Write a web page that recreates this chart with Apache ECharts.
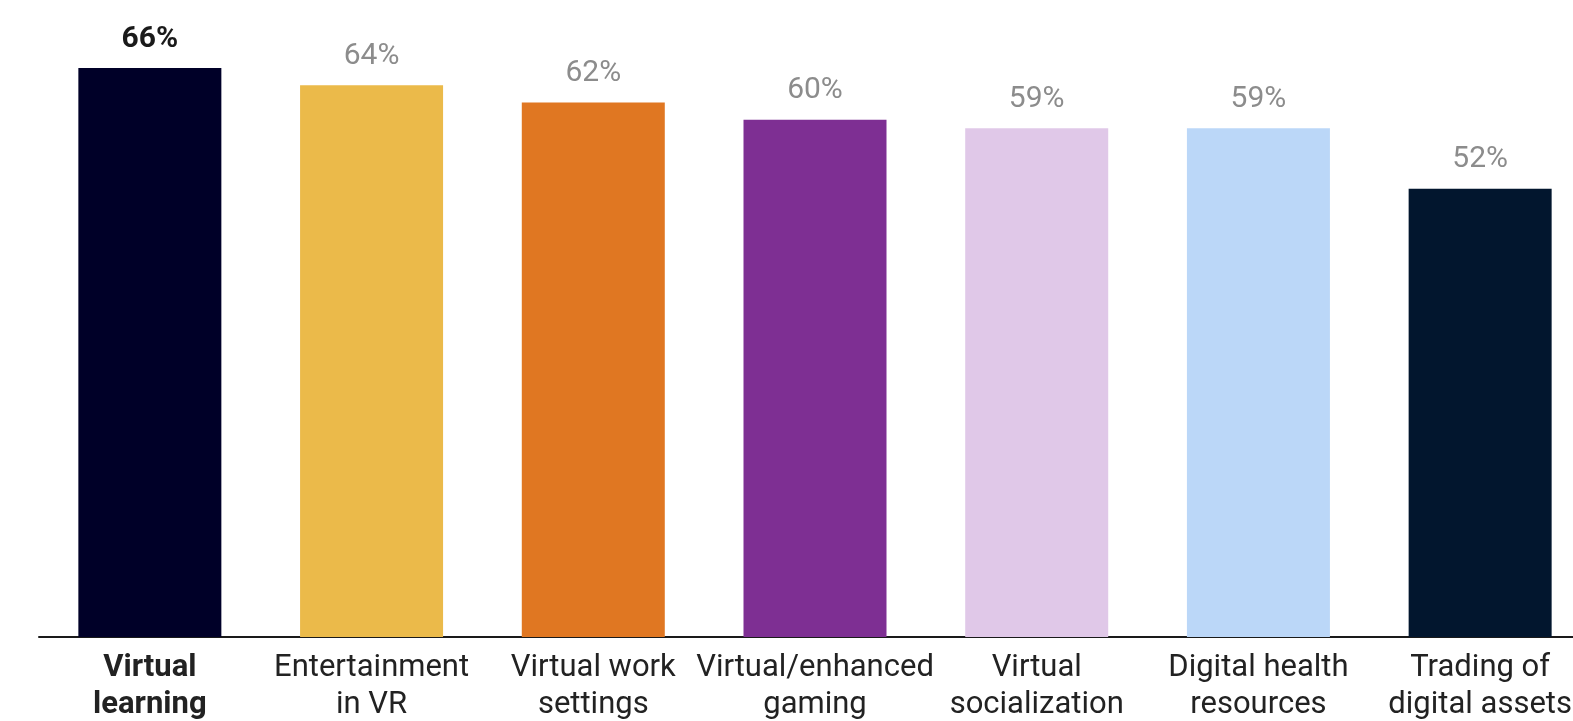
<!DOCTYPE html>
<html>
<head>
<meta charset="utf-8">
<script src="https://cdn.jsdelivr.net/npm/echarts@6/dist/echarts.min.js"></script>
<style>
  html, body { margin: 0; padding: 0; background: #fff; }
  #chart { width: 1573px; height: 721px; }
</style>
</head>
<body>
<div id="chart"></div>
<script>
// categories and values
const categories = [
  'Virtual\nlearning',
  'Entertainment\nin VR',
  'Virtual work\nsettings',
  'Virtual/enhanced\ngaming',
  'Virtual\nsocialization',
  'Digital health\nresources',
  'Trading of\ndigital assets'
];
const values = [66, 64, 62, 60, 59, 59, 52];
const barColors = ['#000028', '#EBBA4A', '#E07722', '#7E2F93', '#E0C8E8', '#BBD7F8', '#02162E'];

const chart = echarts.init(document.getElementById('chart'));

const option = {
  animation: false,
  // plot runs past the right edge, last label is cut like in the source
  grid: { left: 39, width: 1552, top: 68, bottom: 84, containLabel: false, outerBoundsMode: 'none' },
  xAxis: {
    type: 'category',
    data: categories,
    axisLine: { lineStyle: { color: '#1a1a1a', width: 2 } },
    axisTick: { show: false },
    axisLabel: {
      interval: 0,
      margin: 13,
      hideOverlap: false,
      fontFamily: 'Roboto',
      fontSize: 31,
      lineHeight: 37,
      color: '#222',
      formatter: (v, i) => i === 0 ? '{b|' + v.split('\n').join('}\n{b|') + '}' : v,
      rich: { b: { fontWeight: 'bold', fontSize: 31, lineHeight: 37, color: '#222', fontFamily: 'Roboto' } }
    }
  },
  yAxis: {
    type: 'value',
    min: 0,
    max: 66,
    show: false,
    splitLine: { show: false }
  },
  series: [{
    type: 'bar',
    barWidth: 143,
    data: values.map((v, i) => ({
      value: v,
      itemStyle: { color: barColors[i] },
      label: i === 0 ? { color: '#1a1a1a', fontWeight: 'bold' } : {}
    })),
    label: {
      show: true,
      position: 'top',
      distance: 14,
      formatter: '{c}%',
      fontFamily: 'Roboto',
      fontSize: 30,
      color: '#8c8c8c'
    }
  }]
};

chart.setOption(option);
</script>
</body>
</html>
